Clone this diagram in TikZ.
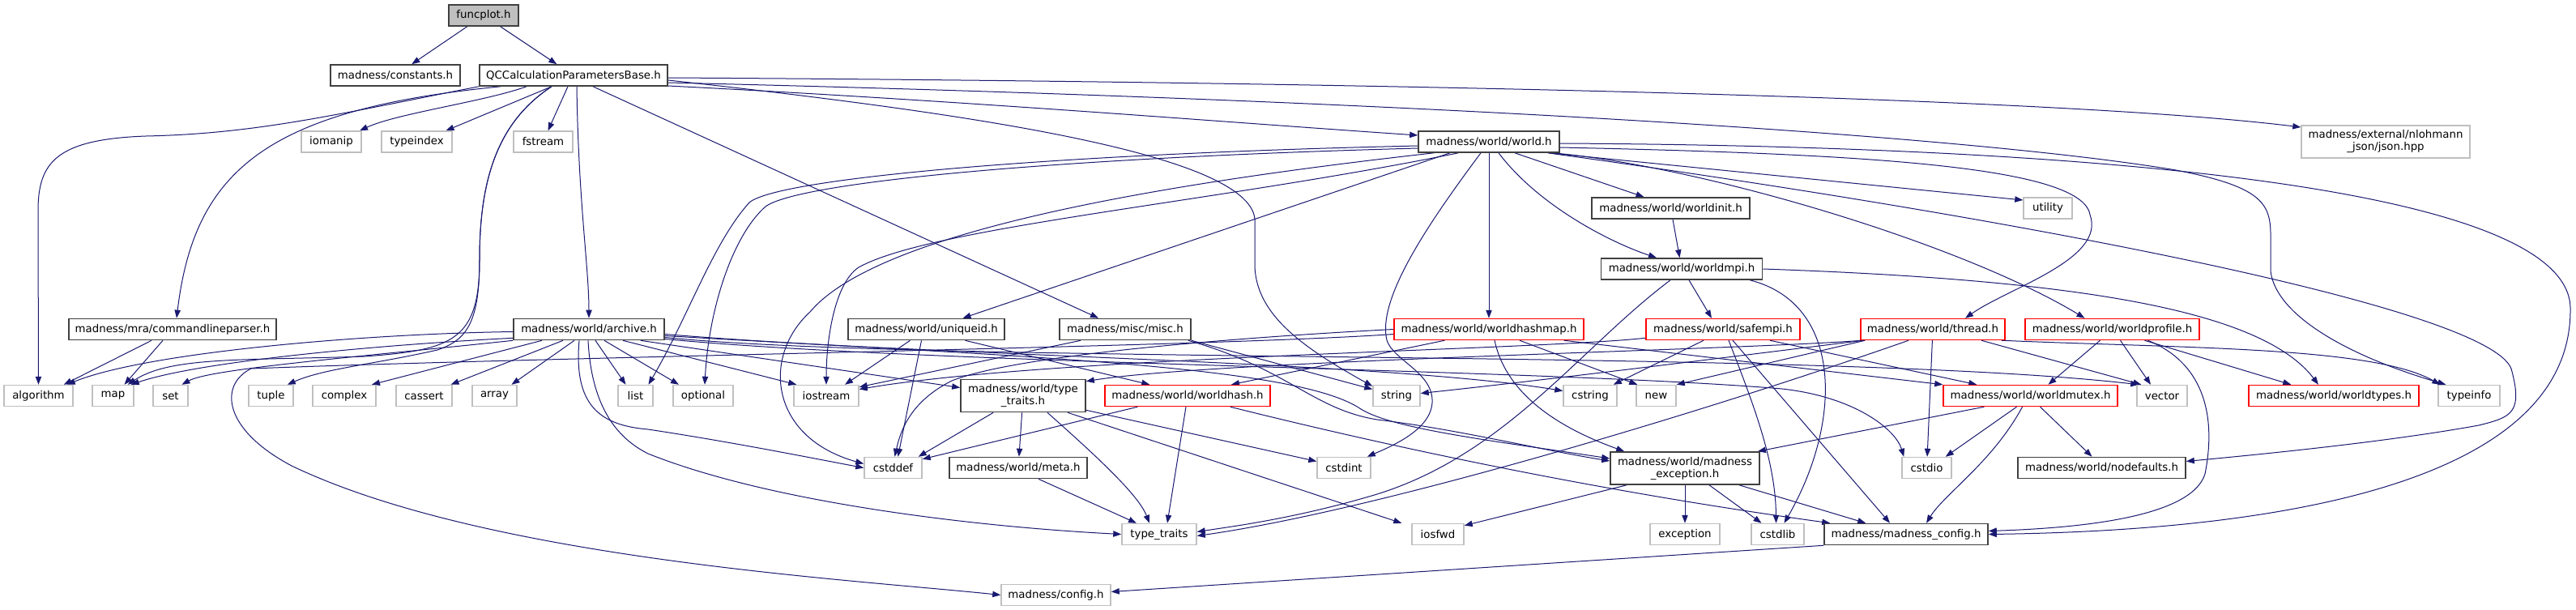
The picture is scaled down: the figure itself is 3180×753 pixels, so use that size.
\documentclass[tikz,border=0pt]{standalone}
\usepackage{fontspec}
\setmainfont{DejaVu Sans}
\usetikzlibrary{arrows.meta,calc,backgrounds}
\definecolor{edgec}{HTML}{191970}
\definecolor{gbord}{HTML}{BFBFBF}
\definecolor{bbord}{HTML}{404040}
\definecolor{rbord}{HTML}{FF0000}
\definecolor{fpfill}{HTML}{BFBFBF}
\begin{document}
\begin{tikzpicture}[x=0.75pt,y=-0.75pt,
 nd/.style={rectangle, inner sep=0pt, minimum height=19.5pt, font=\fontsize{10}{11.25}\selectfont, align=center, fill=white},
 blk/.style={nd, draw=bbord, line width=1.2pt},
 gry/.style={nd, draw=gbord, line width=1.1pt},
 rd/.style={nd, draw=rbord, line width=1.1pt},
 tall/.style={minimum height=30pt},
 bw/.style={minimum width=#1*0.75pt},
 edg/.style={draw=edgec, line width=0.75pt, -{Triangle[length=7.5pt,width=5.5pt]}}]
\path[use as bounding box] (0,0) rectangle (3180,753);
% row 1-5
\node[blk,bw=86,fill=fpfill] (fp) at (597,19) {funcplot.h};
\node[blk,bw=160] (cons) at (488,93) {madness/constants.h};
\node[blk,bw=232] (qcc) at (708,93) {QCCalculationParametersBase.h};
\node[gry,bw=74] (iomanip) at (409,175) {iomanip};
\node[gry,bw=87] (typeindex) at (514.5,175) {typeindex};
\node[gry,bw=73] (fstream) at (670.5,175) {fstream};
\node[blk,bw=174] (world) at (1838,175) {madness/world/world.h};
\node[gry,bw=208,tall] (json) at (2945,175) {madness/external/nlohmann\\\_json/json.hpp};
\node[blk,bw=195] (winit) at (2062.5,257) {madness/world/worldinit.h};
\node[gry,bw=60] (utility) at (2528,257) {utility};
\node[blk,bw=199] (wmpi) at (2076,332) {madness/world/worldmpi.h};
% row 6
\node[blk,bw=256] (clp) at (213,406.5) {madness/mra/commandlineparser.h};
\node[blk,bw=186] (archive) at (727,406.5) {madness/world/archive.h};
\node[blk,bw=193] (uid) at (1143.5,406.5) {madness/world/uniqueid.h};
\node[blk,bw=162] (misc) at (1389,406.5) {madness/misc/misc.h};
\node[rd,bw=234] (whm) at (1838,406.5) {madness/world/worldhashmap.h};
\node[rd,bw=190] (safempi) at (2127,406.5) {madness/world/safempi.h};
\node[rd,bw=178] (thread) at (2386,406.5) {madness/world/thread.h};
\node[rd,bw=215] (wprof) at (2607.5,406.5) {madness/world/worldprofile.h};
% row 7
\node[gry,bw=85] (algorithm) at (47.5,488.5) {algorithm};
\node[gry,bw=51] (map) at (139.5,488.5) {map};
\node[gry,bw=43] (set) at (210.5,488.5) {set};
\node[gry,bw=55] (tuple) at (334.5,488.5) {tuple};
\node[gry,bw=78] (complex) at (425,488.5) {complex};
\node[gry,bw=69] (cassert) at (523.5,488.5) {cassert};
\node[gry,bw=55] (array) at (610.5,488.5) {array};
\node[gry,bw=43] (list) at (784.5,488.5) {list};
\node[gry,bw=74] (optional) at (868,488.5) {optional};
\node[gry,bw=80] (iostream) at (1020,488.5) {iostream};
\node[blk,bw=154,tall] (tth) at (1263,488.5) {madness/world/type\\\_traits.h};
\node[rd,bw=204] (whash) at (1466,488.5) {madness/world/worldhash.h};
\node[gry,bw=58] (string) at (1724,488.5) {string};
\node[gry,bw=66] (cstring) at (1963,488.5) {cstring};
\node[gry,bw=49] (new) at (2044.5,488.5) {new};
\node[rd,bw=215] (wmutex) at (2506.5,488.5) {madness/world/worldmutex.h};
\node[gry,bw=62] (vector) at (2669,488.5) {vector};
\node[rd,bw=210] (wtypes) at (2881,488.5) {madness/world/worldtypes.h};
\node[gry,bw=76] (typeinfo) at (3048,488.5) {typeinfo};
% row 8
\node[gry,bw=71] (cstddef) at (1102.5,577.5) {cstddef};
\node[blk,bw=170] (meta) at (1257,577.5) {madness/world/meta.h};
\node[gry,bw=66] (cstdint) at (1659,577.5) {cstdint};
\node[blk,bw=184,tall] (mexc) at (2080,578) {madness/world/madness\\\_exception.h};
\node[gry,bw=61] (cstdio) at (2378.5,577.5) {cstdio};
\node[blk,bw=207] (nodef) at (2594.5,577.5) {madness/world/nodefaults.h};
% row 9-10
\node[gry,bw=92] (tt) at (1431,659.5) {type\_traits};
\node[gry,bw=64] (iosfwd) at (1775,659.5) {iosfwd};
\node[gry,bw=86] (exception) at (2080,659.5) {exception};
\node[gry,bw=65] (cstdlib) at (2194.5,659.5) {cstdlib};
\node[blk,bw=202] (mcfg) at (2353,659.5) {madness/madness\_config.h};
\node[gry,bw=135] (config) at (1303.5,734.5) {madness/config.h};

\begin{scope}[on background layer]
\fill[white] (0,0) rectangle (3180,753);
% funcplot
\draw[edg] (fp) -- (cons);
\draw[edg] (fp) -- (qcc);
% QCC
\draw[edg] ($(qcc.south)+(-58,0)$) .. controls (600,125) and (490,140) .. ($(iomanip.north)+(35,0)$);
\draw[edg] ($(qcc.south)+(-27,0)$) -- ($(typeindex.north)+(36,0)$);
\draw[edg] ($(qcc.south)+(-7,0)$) -- ($(fstream.north)+(6,0)$);
\draw[edg] ($(qcc.east)+(0,13)$) .. controls (1200,125) and (1500,150) .. ($(world.west)+(0,-8)$);
\draw[edg] ($(qcc.east)+(0,3)$) .. controls (1500,100) and (2500,115) .. ($(json.west)+(0,-18)$);
\draw[edg] ($(qcc.east)+(0,9)$) .. controls (1800,125) and (2450,170) .. (2686,210) .. controls (2790,230) and (2803,250) .. (2803,290) -- (2803,335) .. controls (2810,390) and (2900,440) .. ($(typeinfo.north west)+(10,0)$);
\draw[edg] ($(qcc.east)+(0,6)$) .. controls (1200,140) and (1540,190) .. (1549,270) -- (1549,330) .. controls (1552,390) and (1610,430) .. ($(string.north west)+(0,2)$);
\draw[edg] ($(qcc.south west)+(27,0)$) .. controls (330,135) and (240,210) .. ($(clp.north)+(5,0)$);
\draw[edg] ($(qcc.south)+(4,0)$) .. controls (714,250) and (727,330) .. (archive.north);
\draw[edg] ($(qcc.south)+(24,0)$) -- ($(misc.north)+(-33,0)$);
\draw[edg] (qcc.south west) .. controls (420,140) and (320,165) .. (180,168) .. controls (70,172) and (47,200) .. (47,260) -- (algorithm.north);
\draw[edg] ($(qcc.south)+(-27,0)$) .. controls (615,150) and (592,220) .. (592,320) .. controls (592,420) and (560,432) .. (450,440) .. controls (300,445) and (210,440) .. ($(map.north east)+(-8,0)$);
\draw[edg] ($(qcc.south)+(-27,0)$) .. controls (615,150) and (592,220) .. (592,320) .. controls (592,400) and (575,420) .. (540,432) .. controls (460,450) and (400,455) .. ($(tuple.north east)+(-8,0)$);
% world
\draw[edg] ($(world.south)+(32,0)$) -- ($(winit.north)+(-33,0)$);
\draw[edg] ($(world.south east)+(-14,0)$) -- ($(utility.west)+(0,-10)$);
\draw[edg] ($(world.south)+(12,0)$) .. controls (1900,255) and (1990,300) .. ($(wmpi.north)+(-31,0)$);
\draw[edg] (winit) -- (wmpi);
\draw[edg] ($(world.south)+(-48,0)$) -- ($(uid.north)+(45,0)$);
\draw[edg] (world) -- (whm);
\draw[edg] ($(world.east)+(0,7)$) .. controls (2300,190) and (2570,205) .. (2580,265) .. controls (2600,320) and (2480,355) .. ($(thread.north)+(40,0)$);
\draw[edg] ($(world.south east)+(-9,0)$) .. controls (2100,205) and (2420,300) .. ($(wprof.north)+(-34,0)$);
\draw[edg] ($(world.west)+(0,5)$) .. controls (1300,190) and (960,220) .. (925,250) .. controls (880,300) and (850,390) .. ($(list.north)+(16,0)$);
\draw[edg] ($(world.west)+(0,8)$) .. controls (1300,195) and (985,225) .. (945,255) .. controls (905,290) and (875,380) .. ($(optional.north)+(2,0)$);
\draw[edg] ($(world.south west)+(50,0)$) .. controls (1500,250) and (1150,280) .. (1060,330) .. controls (1030,350) and (1020,420) .. (iostream.north);
\draw[edg] ($(world.south west)+(20,0)$) .. controls (1400,230) and (1080,290) .. (1000,385) .. controls (940,440) and (950,540) .. ($(cstddef.west)+(0,-5)$);
\draw[edg] ($(world.south)+(-10,0)$) .. controls (1760,280) and (1700,370) .. (1712,420) .. controls (1720,445) and (1770,460) .. (1768,497) .. controls (1766,530) and (1720,550) .. ($(cstdint.north east)+(-5,0)$);
\draw[edg] ($(world.east)+(0,2)$) .. controls (2500,180) and (3170,220) .. (3173,380) .. controls (3176,600) and (2800,655) .. (mcfg.east);
\draw[edg] ($(world.south east)+(-15,0)$) .. controls (2500,270) and (3070,380) .. (3100,455) .. controls (3115,510) and (3100,515) .. (3060,525) .. controls (2950,545) and (2800,560) .. ($(nodef.east)+(0,-8)$);
% worldmpi
\draw[edg] ($(wmpi.south)+(9,0)$) -- ($(safempi.north)+(-14,0)$);
\draw[edg] (wmpi.east) .. controls (2550,345) and (2790,380) .. ($(wtypes.north)+(-19,0)$);
\draw[edg] ($(wmpi.south)+(-14,0)$) .. controls (1950,430) and (1860,560) .. (1700,610) .. controls (1600,640) and (1520,650) .. ($(tt.east)+(0,-3)$);
\draw[edg] ($(wmpi.south east)+(-16,0)$) .. controls (2275,375) and (2275,520) .. ($(cstdlib.north)+(8,0)$);
% commandlineparser
\draw[edg] ($(clp.south)+(-26,0)$) -- ($(algorithm.north east)+(-12,0)$);
\draw[edg] ($(clp.south)+(-12,0)$) -- ($(map.north)+(14,0)$);
% archive
\draw[edg] ($(archive.west)+(0,3)$) .. controls (450,412) and (180,435) .. ($(algorithm.north east)+(-8,0)$);
\draw[edg] ($(archive.south west)+(0,-3)$) .. controls (480,425) and (250,445) .. ($(map.north east)+(-4,0)$);
\draw[edg] (archive.south west) .. controls (450,440) and (260,455) .. ($(set.north)+(14,0)$);
\draw[edg] ($(archive.south)+(-58,0)$) -- ($(complex.north)+(34,0)$);
\draw[edg] ($(archive.south)+(-32,0)$) -- ($(cassert.north)+(33,0)$);
\draw[edg] ($(archive.south)+(-18,0)$) -- ($(array.north)+(21,0)$);
\draw[edg] ($(archive.south)+(8,0)$) -- ($(list.north)+(-12,0)$);
\draw[edg] ($(archive.south)+(19,0)$) -- ($(optional.north)+(-30,0)$);
\draw[edg] ($(archive.south)+(42,0)$) -- ($(iostream.north west)+(4,0)$);
\draw[edg] ($(archive.south east)+(-30,0)$) -- ($(tth.west)+(0,-10)$);
\draw[edg] ($(archive.south)+(-12,0)$) .. controls (708,500) and (740,525) .. (800,530) .. controls (900,545) and (1000,565) .. (cstddef.west);
\draw[edg] ($(archive.south)+(-1,0)$) .. controls (730,500) and (760,540) .. (800,560) .. controls (950,620) and (1200,650) .. (tt.west);
\draw[edg] ($(archive.east)+(0,6)$) .. controls (1150,440) and (1700,445) .. ($(cstring.west)+(0,-6)$);
\draw[edg] ($(archive.east)+(0,8)$) .. controls (1250,440) and (1600,450) .. (1680,505) .. controls (1720,530) and (1850,545) .. ($(mexc.west)+(0,-12)$);
\draw[edg] ($(archive.east)+(0,10)$) .. controls (1150,450) and (2250,430) .. ($(vector.north west)+(3,0)$);
\draw[edg] ($(archive.east)+(0,12)$) .. controls (1150,450) and (1900,455) .. (2200,480) .. controls (2290,490) and (2340,530) .. ($(cstdio.north west)+(3,0)$);
% uniqueid, misc
\draw[edg] ($(uid.south)+(-20,0)$) -- ($(iostream.north)+(23,0)$);
\draw[edg] ($(uid.south)+(-6,0)$) -- ($(cstddef.north)+(6,0)$);
\draw[edg] ($(uid.south)+(48,0)$) -- ($(whash.north west)+(56,0)$);
\draw[edg] ($(misc.south)+(-55,0)$) -- ($(iostream.north east)+(0,3)$);
\draw[edg] (misc.south east) -- ($(string.west)+(0,-8)$);
\draw[edg] ($(misc.south east)+(-4,0)$) .. controls (1590,455) and (1620,505) .. (1700,518) .. controls (1800,530) and (1900,555) .. ($(mexc.west)+(0,-9)$);
% worldhashmap
\draw[edg] ($(whm.south west)+(63,0)$) -- ($(whash.north)+(54,0)$);
\draw[edg] ($(whm.south)+(38,0)$) -- ($(new.north west)+(2,0)$);
\draw[edg] ($(whm.south east)+(-25,0)$) -- (wmutex.north west);
\draw[edg] ($(whm.south)+(7,0)$) .. controls (1860,490) and (1930,530) .. ($(mexc.north west)+(18,0)$);
\draw[edg] (whm.west) .. controls (1500,418) and (1250,440) .. (1175,470) .. controls (1125,495) and (1112,530) .. ($(cstddef.north)+(2,0)$);
\draw[edg] ($(whm.west)+(0,6)$) .. controls (1500,428) and (700,440) .. (310,455) .. controls (270,475) and (275,530) .. (360,575) .. controls (600,690) and (1050,715) .. (config.west);
% safempi
\draw[edg] ($(safempi.south west)+(0,-3)$) .. controls (1900,432) and (1300,440) .. ($(iostream.east)+(0,-8)$);
\draw[edg] ($(safempi.south)+(-24,0)$) -- ($(cstring.north east)+(-5,0)$);
\draw[edg] ($(safempi.south)+(58,0)$) -- ($(wmutex.north west)+(42,0)$);
\draw[edg] ($(safempi.south)+(7,0)$) .. controls (2165,500) and (2192,570) .. ($(cstdlib.north)+(-2,0)$);
\draw[edg] ($(safempi.south)+(12,0)$) -- ($(mcfg.north)+(-20,0)$);
% thread
\draw[edg] ($(thread.south west)+(2,0)$) .. controls (2150,432) and (1500,445) .. ($(tth.north east)+(0,3)$);
\draw[edg] ($(thread.south west)+(4,0)$) .. controls (2100,445) and (1900,470) .. ($(string.east)+(0,-3)$);
\draw[edg] ($(thread.south west)+(6,0)$) -- (new.north east);
\draw[edg] ($(thread.south)+(60,0)$) -- ($(vector.north west)+(6,0)$);
\draw[edg] ($(thread.south east)+(-5,0)$) .. controls (2700,430) and (2930,428) .. ($(typeinfo.north west)+(3,0)$);
\draw[edg] (thread) -- (cstdio);
\draw[edg] ($(thread.south)+(-30,0)$) .. controls (2100,510) and (1700,630) .. ($(tt.east)+(0,2)$);
% worldprofile
\draw[edg] ($(wprof.south)+(-15,0)$) -- ($(wmutex.north)+(22,0)$);
\draw[edg] ($(wprof.south)+(10,0)$) -- ($(vector.north)+(-14,0)$);
\draw[edg] ($(wprof.south)+(40,0)$) -- ($(wtypes.north west)+(53,0)$);
\draw[edg] ($(wprof.south)+(44,0)$) .. controls (2725,450) and (2735,520) .. (2722,585) .. controls (2705,640) and (2560,652) .. ($(mcfg.east)+(0,-4)$);
% row 7 sources
\draw[edg] ($(tth.south west)+(41,0)$) -- ($(cstddef.north east)+(-5,0)$);
\draw[edg] (tth) -- (meta);
\draw[edg] ($(tth.south)+(30,0)$) .. controls (1350,560) and (1405,610) .. ($(tt.north)+(-12,0)$);
\draw[edg] ($(tth.south east)+(0,-3)$) -- ($(cstdint.west)+(0,-8)$);
\draw[edg] ($(tth.south)+(55,0)$) -- ($(iosfwd.north west)+(-12,0)$);
\draw[edg] ($(whash.south west)+(41,0)$) -- ($(cstddef.north east)+(0,3)$);
\draw[edg] ($(whash.south)+(-2,0)$) -- ($(tt.north)+(10,0)$);
\draw[edg] ($(whash.south east)+(-50,0)$) .. controls (1750,560) and (2000,610) .. ($(mcfg.north west)+(8,0)$);
\draw[edg] ($(wmutex.south west)+(51,0)$) -- ($(mexc.north east)+(-3,0)$);
\draw[edg] ($(wmutex.south)+(-17,0)$) -- ($(cstdio.north east)+(-8,0)$);
\draw[edg] ($(wmutex.south)+(12,0)$) -- ($(nodef.north)+(-12,0)$);
\draw[edg] ($(wmutex.south)+(-10,0)$) .. controls (2460,570) and (2400,610) .. ($(mcfg.north)+(25,0)$);
% row 8 sources
\draw[edg] ($(meta.south)+(25,0)$) -- ($(tt.north)+(-28,0)$);
\draw[edg] ($(mexc.south)+(-72,0)$) -- ($(iosfwd.north east)+(0,3)$);
\draw[edg] (mexc) -- (exception);
\draw[edg] ($(mexc.south)+(30,0)$) -- ($(cstdlib.north)+(-20,0)$);
\draw[edg] ($(mexc.south)+(67,0)$) -- ($(mcfg.north west)+(52,0)$);
% row 9
\draw[edg] (mcfg.south west) -- ($(config.east)+(0,-4)$);
\end{scope}
\end{tikzpicture}
\end{document}
